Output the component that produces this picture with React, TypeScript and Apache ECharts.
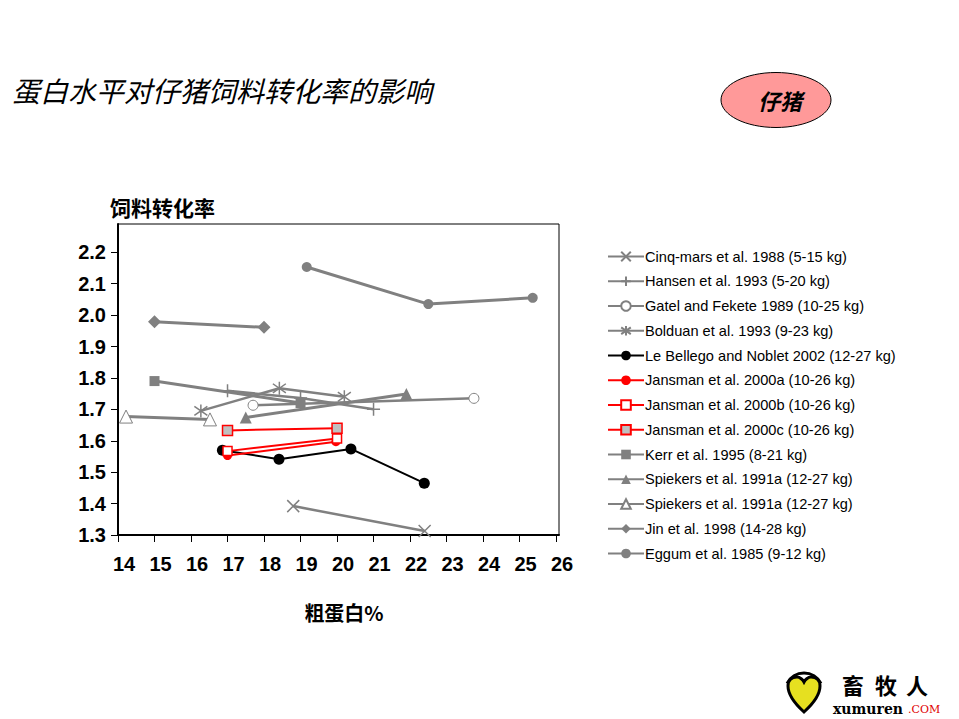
import React, { useEffect, useRef } from "react";
import * as echarts from "echarts";

const seriesNames = [
  "Cinq-mars et al. 1988 (5-15 kg)",
  "Hansen et al. 1993 (5-20 kg)",
  "Gatel and Fekete 1989 (10-25 kg)",
  "Bolduan et al. 1993 (9-23 kg)",
  "Le Bellego and Noblet 2002 (12-27 kg)",
  "Jansman et al. 2000a (10-26 kg)",
  "Jansman et al. 2000b (10-26 kg)",
  "Jansman et al. 2000c (10-26 kg)",
  "Kerr et al. 1995 (8-21 kg)",
  "Spiekers et al. 1991a (12-27 kg)",
  "Spiekers et al. 1991a (12-27 kg) ",
  "Jin et al. 1998 (14-28 kg)",
  "Eggum et al. 1985 (9-12 kg)",
];

const cinqMars = [[18.8, 1.392], [22.4, 1.313]];
const hansen = [[17.0, 1.759], [19.0, 1.736], [21.0, 1.70]];
const gatel = [[17.7, 1.713], [23.75, 1.735]];
const bolduan = [[16.27, 1.695], [18.42, 1.767], [20.2, 1.74]];
const leBellego = [[16.86, 1.57], [18.41, 1.541], [20.38, 1.574], [22.39, 1.465]];
const jansmanA = [[17.0, 1.553], [19.97, 1.597]];
const jansmanB = [[17.0, 1.567], [20.0, 1.607]];
const jansmanC = [[17.0, 1.633], [20.0, 1.64]];
const kerr = [[15.0, 1.79], [19.0, 1.72]];
const spiekersA = [[17.5, 1.674], [21.9, 1.749]];
const spiekersB = [[14.22, 1.677], [16.52, 1.668]];
const jin = [[15.0, 1.979], [18.0, 1.961]];
const eggum = [[19.17, 2.153], [22.5, 2.035], [25.36, 2.055]];

const xTicks = { min: 14, max: 26.08, interval: 1 };
const yTicks = { min: 1.3, max: 2.29, interval: 0.1 };

const GRAY = "#808080";
const RED = "#FF0000";

const X_SYM = "path://M0,0L10,10M10,0L0,10";
const PLUS_SYM = "path://M5,0L5,10M0,5L10,5";
const AST_SYM = "path://M5,0L5,10M0,1.5L10,8.5M10,1.5L0,8.5";

function mk(name: string, data: number[][], color: string, lw: number, symbol: string, size: number, fill: string, border?: string, bw?: number) {
  return {
    name,
    type: "line",
    data,
    symbol,
    symbolSize: size,
    showSymbol: true,
    lineStyle: { color, width: lw },
    itemStyle: { color: fill, borderColor: border || fill, borderWidth: bw || 0, opacity: 1 },
    emphasis: { disabled: true },
  };
}

export default function App() {
  const ref = useRef<HTMLDivElement>(null);
  useEffect(() => {
    if (!ref.current) return;
    echarts.graphic.registerShape(
      "heartLogo",
      echarts.graphic.extendPath(
        "M16,36 C5,26 0,18 0,10 C0,4 4,1 9,1 C12,1 15,4 16,6 C17,4 20,1 23,1 C28,1 32,4 32,10 C32,18 27,26 16,36 Z",
        {}
      )
    );
    const chart = echarts.init(ref.current, null, { renderer: "svg" });
    const series = [
      mk(seriesNames[0], cinqMars, GRAY, 2.5, X_SYM, 12, GRAY, GRAY, 1.5),
      mk(seriesNames[1], hansen, GRAY, 2.5, PLUS_SYM, 13, GRAY, GRAY, 1.5),
      mk(seriesNames[2], gatel, GRAY, 2.5, "circle", 10, "#FFFFFF", GRAY, 1),
      mk(seriesNames[3], bolduan, GRAY, 2.5, AST_SYM, 13, GRAY, GRAY, 1.5),
      mk(seriesNames[4], leBellego, "#000000", 2, "circle", 11, "#000000"),
      mk(seriesNames[5], jansmanA, RED, 2, "circle", 9, RED),
      mk(seriesNames[6], jansmanB, RED, 2, "rect", 9, "#FFFFFF", RED, 1.5),
      mk(seriesNames[7], jansmanC, RED, 2, "rect", 10, "#C0C0C0", RED, 1.5),
      mk(seriesNames[8], kerr, GRAY, 3, "rect", 10, GRAY),
      mk(seriesNames[9], spiekersA, GRAY, 3, "triangle", 12, GRAY),
      mk(seriesNames[10], spiekersB, GRAY, 3, "triangle", 13, "#FFFFFF", GRAY, 1),
      mk(seriesNames[11], jin, GRAY, 3, "diamond", 13, GRAY),
      mk(seriesNames[12], eggum, GRAY, 3, "circle", 10, GRAY),
    ];
    const isMult = (v: number, step: number) => Math.abs(v / step - Math.round(v / step)) < 1e-6;
    chart.setOption({
      animation: false,
      backgroundColor: "#FFFFFF",
      grid: { left: 118, right: 400, top: 224, bottom: 184, show: true, borderColor: "#000", borderWidth: 1, containLabel: false },
      xAxis: {
        type: "value",
        min: xTicks.min,
        max: xTicks.max,
        interval: xTicks.interval,
        splitLine: { show: false },
        axisLine: { show: true, onZero: false, lineStyle: { color: "#000", width: 2 } },
        axisTick: { show: true, length: 7, lineStyle: { color: "#000", width: 1 } },
        axisLabel: {
          showMaxLabel: false,
          margin: 19,
          padding: [0, 0, 0, 12],
          color: "#000",
          fontFamily: "Liberation Sans",
          fontWeight: "bold",
          fontSize: 20,
          formatter: (v: number) => (isMult(v, 1) ? String(Math.round(v)) : ""),
        },
      },
      yAxis: {
        type: "value",
        min: yTicks.min,
        max: yTicks.max,
        interval: yTicks.interval,
        splitLine: { show: false },
        axisLine: { show: true, onZero: false, lineStyle: { color: "#000", width: 2 } },
        axisTick: { show: true, length: 7, lineStyle: { color: "#000", width: 1 } },
        axisLabel: {
          showMaxLabel: false,
          margin: 12,
          padding: [0, 0, 6, 0],
          color: "#000",
          fontFamily: "Liberation Sans",
          fontWeight: "bold",
          fontSize: 20,
          formatter: (v: number) => (isMult(v, 0.1) ? v.toFixed(1) : ""),
        },
      },
      legend: {
        orient: "vertical",
        left: 607,
        top: 249,
        padding: 0,
        itemWidth: 36,
        itemHeight: 12,
        itemGap: 9.75,
        selectedMode: false,
        data: seriesNames,
        formatter: (n: string) => n.trim(),
        textStyle: { color: "#000", fontFamily: "Liberation Sans", fontSize: 14.6, padding: [0, 0, 0, -4] },
      },
      graphic: [
        {
          type: "text",
          left: 12,
          top: 76,
          style: { text: "蛋白水平对仔猪饲料转化率的影响", fill: "#000", font: "italic 28px 'Noto Sans CJK SC'" },
        },
        {
          type: "ellipse",
          shape: { cx: 776, cy: 100, rx: 55, ry: 27.5 },
          style: { fill: "#FF9999", stroke: "#000", lineWidth: 1 },
        },
        {
          type: "text",
          x: 780,
          y: 100,
          style: { text: "仔猪", fill: "#000", font: "italic bold 22px 'Noto Sans CJK SC'", align: "center", verticalAlign: "middle" },
        },
        {
          type: "text",
          x: 110,
          y: 207,
          style: { text: "饲料转化率", fill: "#000", font: "bold 21px 'Noto Sans CJK SC'", align: "left", verticalAlign: "middle" },
        },
        {
          type: "text",
          x: 344,
          y: 612,
          style: { text: "粗蛋白%", fill: "#000", font: "bold 20px 'Noto Sans CJK SC'", align: "center", verticalAlign: "middle" },
        },
        {
          type: "arc",
          shape: { cx: 804, cy: 692, r: 19, startAngle: Math.PI * 1.15, endAngle: Math.PI * 1.85 },
          style: { stroke: "#000", lineWidth: 3, fill: "none" },
        },
        {
          type: "heartLogo",
          x: 788,
          y: 676,
          scaleX: 1,
          scaleY: 1,
          style: { fill: "#E6E020", stroke: "#000", lineWidth: 3 },
        },
        { type: "text", x: 842, y: 684, style: { text: "畜", fill: "#000", font: "bold 22px 'Noto Sans CJK SC'", lineHeight: 22, verticalAlign: "middle" } },
        { type: "text", x: 875, y: 684, style: { text: "牧", fill: "#000", font: "bold 22px 'Noto Sans CJK SC'", lineHeight: 22, verticalAlign: "middle" } },
        { type: "text", x: 906, y: 684, style: { text: "人", fill: "#000", font: "bold 22px 'Noto Sans CJK SC'", lineHeight: 22, verticalAlign: "middle" } },
        { type: "text", x: 833, y: 709, style: { text: "xumuren", fill: "#000", font: "bold 14px 'DejaVu Serif'", lineHeight: 12, verticalAlign: "middle" } },
        { type: "text", x: 908, y: 709, style: { text: ".COM", fill: "#E00000", font: "11px 'DejaVu Serif'", lineHeight: 10, verticalAlign: "middle" } },
      ],
      series,
    });
    return () => chart.dispose();
  }, []);
  return <div ref={ref} style={{ position: "absolute", left: 0, top: 0, width: 959, height: 719, background: "#fff" }} />;
}
